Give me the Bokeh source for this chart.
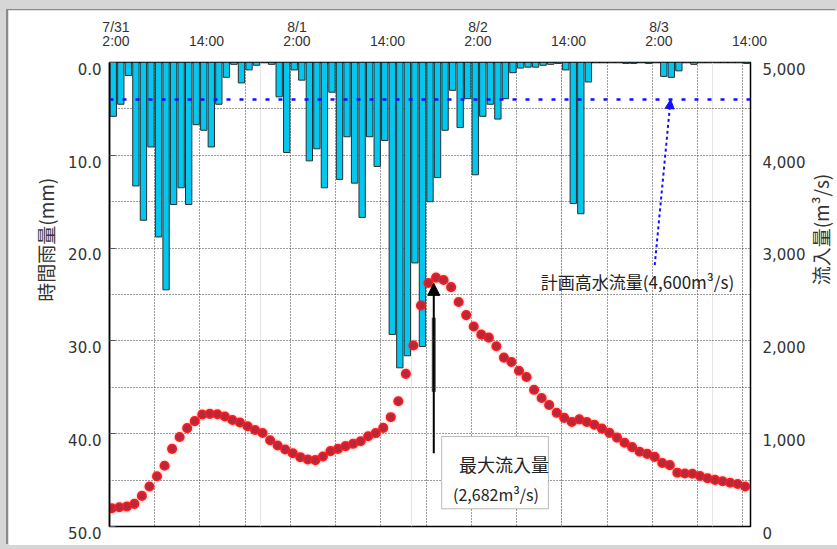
import numpy as np
from bokeh.plotting import figure
from bokeh.models import (Range1d, LinearAxis, FixedTicker, Grid, Span, Arrow,
                          NormalHead, BoxAnnotation, Label, ColumnDataSource)
from bokeh.layouts import column
from bokeh.embed import file_html
from bokeh.resources import INLINE

# Hourly rainfall (mm), one value per hour starting 7/31 2:00
rain_mm = [5.8, 4.5, 1.4, 13.3, 17.0, 9.1, 18.8, 24.5, 15.3, 13.5,
           15.3, 6.7, 7.3, 9.1, 4.5, 1.6, 0.2, 2.2, 0.8, 0.3,
           0.0, 0.2, 3.7, 9.7, 0.8, 1.9, 10.6, 9.3, 13.5, 3.2,
           12.6, 8.0, 13.0, 16.7, 8.0, 11.2, 8.4, 29.3, 32.9, 31.6,
           21.6, 30.6, 15.0, 12.4, 7.3, 3.0, 7.0, 3.9, 12.1, 5.8,
           4.5, 6.1, 3.9, 1.1, 0.6, 0.5, 0.5, 0.3, 0.2, 0.1,
           0.8, 15.2, 16.3, 2.1, 0.0, 0.0, 0.0, 0.0, 0.1, 0.1,
           0.0, 0.1, 0.0, 1.5, 1.6, 0.9, 0.0, 0.2, 0.0, 0.0,
           0.0, 0.0, 0.0, 0.0, 0.1]

# Hourly dam inflow (m3/s)
inflow = [197, 208, 215, 244, 330, 431, 542, 655, 837, 965,
          1060, 1135, 1207, 1214, 1210, 1185, 1148, 1121, 1081, 1040,
          1008, 930, 873, 830, 790, 747, 722, 715, 754, 812,
          837, 866, 891, 919, 973, 1006, 1063, 1178, 1350, 1645,
          1950, 2381, 2624, 2682, 2656, 2579, 2419, 2278, 2155, 2068,
          2035, 1942, 1820, 1773, 1678, 1611, 1473, 1385, 1310, 1225,
          1170, 1126, 1154, 1126, 1097, 1055, 1009, 958, 902, 855,
          806, 783, 750, 684, 661, 580, 571, 568, 544, 520,
          502, 488, 472, 458, 431]

tick_hours = [0, 12, 24, 36, 48, 60, 72, 84]
tick_labels = ["7/31\n2:00", "14:00", "8/1\n2:00", "14:00",
               "8/2\n2:00", "14:00", "8/3\n2:00", "14:00"]
rain_ticks = [0, 10, 20, 30, 40, 50]
flow_ticks = [0, 1000, 2000, 3000, 4000, 5000]

plan_flow = 4600      # planned high-water discharge
peak_flow = max(inflow)
peak_hour = inflow.index(peak_flow)

hours = np.arange(len(rain_mm))
src = ColumnDataSource(dict(xb=hours + 0.5, rain=rain_mm, zero=[0] * len(rain_mm)))
fsrc = ColumnDataSource(dict(xf=np.arange(len(inflow)) + 0.3, flow=inflow))

p = figure(width=829, height=535, x_range=Range1d(0, 85), y_range=Range1d(50, 0),
           output_backend="svg", toolbar_location=None, x_axis_location=None,
           min_border_left=101, min_border_top=52, min_border_right=87,
           min_border_bottom=19, background_fill_color="white",
           border_fill_color="white")
p.margin = (10, 0, 0, 8)
p.styles = {"box-shadow": "-2px -1px 0 #8a8a8a"}
p.outline_line_color = "black"
p.outline_line_width = 1.5

p.extra_y_ranges = {"flow": Range1d(0, 5000)}
# time labels sit a little right of the hour they name
p.extra_x_ranges = {"lab": Range1d(-0.86, 85 - 0.86)}

# grids: every 6 hours, every 5 mm
p.ygrid.ticker = FixedTicker(ticks=list(range(0, 51, 5)))
p.ygrid.grid_line_color = "#3a3a3a"
p.ygrid.grid_line_dash = "1 2"
p.ygrid.grid_line_width = 1
xgrid = Grid(dimension=0, ticker=FixedTicker(ticks=list(range(0, 85, 6))),
             grid_line_color="#3a3a3a", grid_line_dash="1 2", grid_line_width=1)
p.add_layout(xgrid)

# value labels hang just below their tick (leading blank line)
tick_font = dict(major_label_text_font="DejaVu Sans",
                 major_label_text_font_size="15px",
                 major_label_text_color="#333333",
                 major_label_text_line_height=0.8)

# left axis: hourly rainfall
ya = p.yaxis[0]
ya.ticker = FixedTicker(ticks=rain_ticks)
ya.major_label_overrides = {t: "\n" + f"{t:.1f}" for t in rain_ticks}
ya.major_tick_in = 6
ya.major_tick_out = 0
ya.minor_tick_line_color = None
ya.axis_line_color = "black"
ya.axis_line_width = 1.5
ya.major_tick_line_color = "#555555"
ya.major_label_standoff = 8
for k, v in tick_font.items():
    setattr(ya, k, v)

# right axis: inflow
ra = LinearAxis(y_range_name="flow", ticker=FixedTicker(ticks=flow_ticks),
                major_label_overrides={t: "\n" + f"{t:,}" for t in flow_ticks},
                major_tick_in=0, major_tick_out=0, minor_tick_line_color=None,
                axis_line_color=None, major_label_standoff=12, **tick_font)
p.add_layout(ra, "right")

# top axis: date / time
ta = LinearAxis(x_range_name="lab", ticker=FixedTicker(ticks=tick_hours),
                major_label_overrides=dict(zip(tick_hours, tick_labels)),
                major_tick_in=0, major_tick_out=0, minor_tick_line_color=None,
                axis_line_color=None, major_label_standoff=14,
                major_label_text_font="Liberation Sans",
                major_label_text_font_size="14px",
                major_label_text_color="#333333",
                major_label_text_line_height=0.85)
p.add_layout(ta, "above")

# axis titles, drawn in the side panels
title_font = dict(text_font="Noto Sans CJK JP", text_font_size="19px",
                  text_color="#333333", text_baseline="middle", text_align="center",
                  angle=1.5708)
p.add_layout(Label(x=-8.5, y=19.1, text="時間雨量(mm)", **title_font), "left")
p.add_layout(Label(x=94.3, y=3200, y_range_name="flow", text="流入量(m³/s)",
                   **title_font), "right")

# rainfall bars hanging from the top
p.vbar(x="xb", width=0.84, top="zero", bottom="rain", source=src,
       fill_color="#00c8f0", line_color="#2e2e2e", line_width=1)

# planned high-water discharge level
p.add_layout(Span(location=plan_flow, dimension="width", y_range_name="flow",
                  line_color="#1010ff", line_width=2.5, line_dash="4 9"))

# inflow points
p.scatter("xf", "flow", source=fsrc, y_range_name="flow", size=13,
          fill_color="#ff3030", fill_alpha=0.10, line_color=None)
p.scatter("xf", "flow", source=fsrc, y_range_name="flow", size=8.5,
          fill_color="#b8283c", line_color="#ff1a1a", line_width=1.6)

# pointer to the planned level
p.add_layout(Arrow(end=NormalHead(size=9, fill_color="#1010ff", line_color="#1010ff"),
                   x_start=72.3, y_start=2816, x_end=74.4, y_end=plan_flow,
                   y_range_name="flow", line_color="#1010ff", line_width=2,
                   line_dash="3 3"))
p.add_layout(Label(x=57.2, y=2640, y_range_name="flow",
                   text=f"計画高水流量({plan_flow:,}m³/s)",
                   text_font="Noto Sans CJK JP", text_font_size="17px",
                   text_color="#222222", text_baseline="middle", text_align="left"))

# peak inflow callout
p.add_layout(BoxAnnotation(left=44.05, right=58.2, top=970, bottom=191,
                           y_range_name="flow", fill_color="white", fill_alpha=1,
                           line_color="#1a1a1a", line_width=1))
p.add_layout(Arrow(end=NormalHead(size=12, fill_color="black", line_color="black"),
                   x_start=peak_hour, y_start=790, x_end=peak_hour, y_end=2620,
                   y_range_name="flow", line_color="black", line_width=2))
p.segment(x0=[peak_hour], y0=[1450], x1=[peak_hour], y1=[2250],
          y_range_name="flow", line_color="#555555", line_width=4)
p.add_layout(Label(x=46.36, y=673, y_range_name="flow", text="最大流入量",
                   text_font="Noto Sans CJK JP", text_font_size="18px",
                   text_color="#222222", text_baseline="middle", text_align="left"))
p.add_layout(Label(x=45.56, y=350, y_range_name="flow",
                   text=f"({peak_flow:,}m³/s)",
                   text_font="Noto Sans CJK JP", text_font_size="16px",
                   text_color="#222222", text_baseline="middle", text_align="left"))

page = column(p, background="#d6d6d6", width=837, height=549)
open("out.html", "w").write(file_html(page, INLINE))
